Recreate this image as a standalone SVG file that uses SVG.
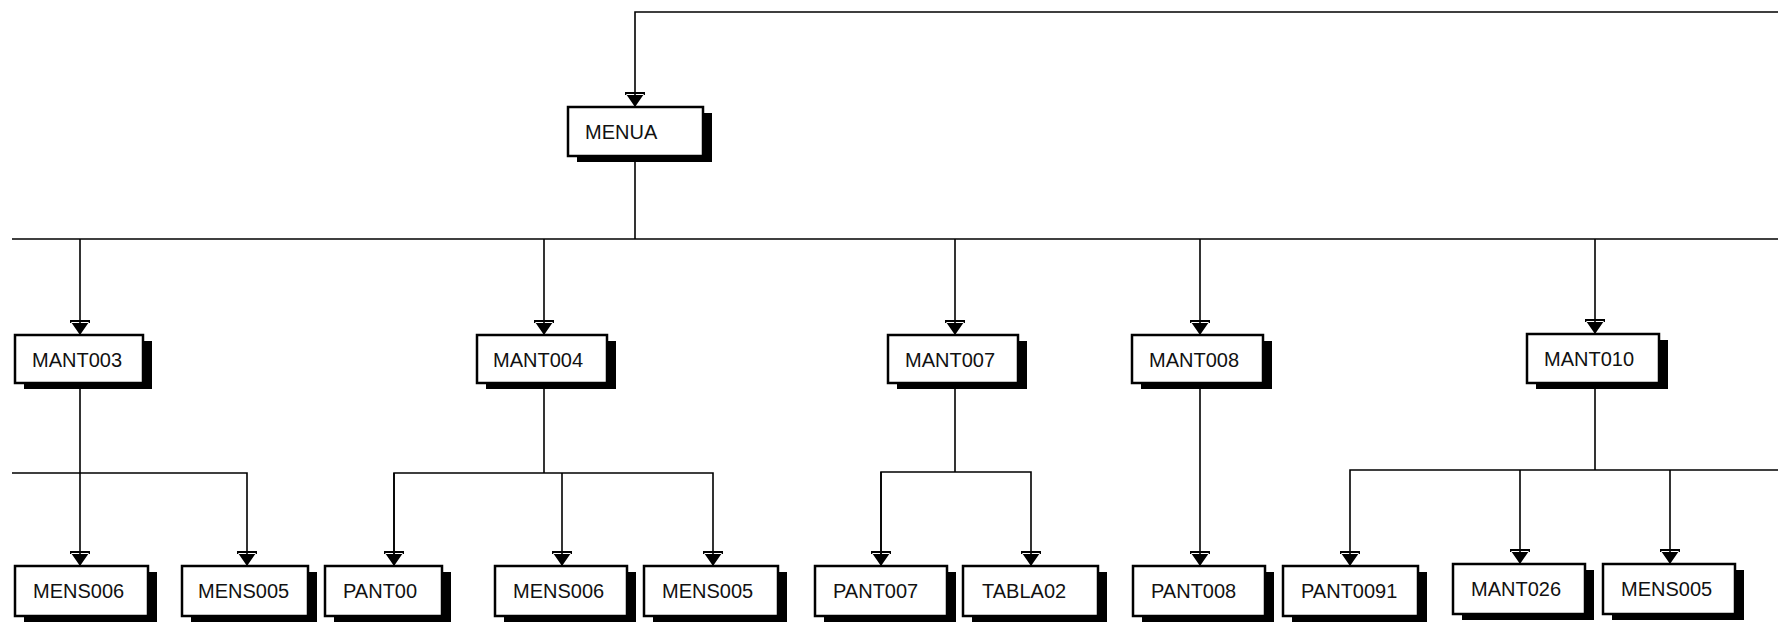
<svg xmlns="http://www.w3.org/2000/svg" width="1778" height="627" viewBox="0 0 1778 627">
<style>
.sh{fill:#000}
.bx{fill:#fff;stroke:#000;stroke-width:2.5}
.lb{font-family:"Liberation Sans",Arial,sans-serif;font-size:20px;fill:#111}
.ln{fill:none;stroke:#000;stroke-width:1.6}
</style>
<defs>
<marker id="ah" markerUnits="userSpaceOnUse" viewBox="-16 -12 18 24" markerWidth="18" markerHeight="24" refX="0" refY="0" orient="auto">
<path d="M0,0 L-13,-9 L-13,9 Z M-15,-10 H-12 V10 H-15 Z" fill="#000"/>
</marker>
</defs>
<g id="connectors">
<path class="ln" d="M1778,12 H635 V107" marker-end="url(#ah)"/>
<path class="ln" d="M635,156 V239"/>
<path class="ln" d="M12,239 H1778"/>
<path class="ln" d="M80,239 V335" marker-end="url(#ah)"/>
<path class="ln" d="M544,239 V335" marker-end="url(#ah)"/>
<path class="ln" d="M955,239 V335" marker-end="url(#ah)"/>
<path class="ln" d="M1200,239 V335" marker-end="url(#ah)"/>
<path class="ln" d="M1595,239 V334" marker-end="url(#ah)"/>
<path class="ln" d="M80,383 V566" marker-end="url(#ah)"/>
<path class="ln" d="M12,473 H247 V566" marker-end="url(#ah)"/>
<path class="ln" d="M544,383 V473"/>
<path class="ln" d="M394,566 V473 H713 V566" marker-end="url(#ah)"/>
<path class="ln" d="M394,473 V566" marker-end="url(#ah)"/>
<path class="ln" d="M562,473 V566" marker-end="url(#ah)"/>
<path class="ln" d="M955,383 V472"/>
<path class="ln" d="M881,566 V472 H1031 V566" marker-end="url(#ah)"/>
<path class="ln" d="M881,472 V566" marker-end="url(#ah)"/>
<path class="ln" d="M1200,383 V566" marker-end="url(#ah)"/>
<path class="ln" d="M1595,383 V470"/>
<path class="ln" d="M1778,470 H1350 V566" marker-end="url(#ah)"/>
<path class="ln" d="M1520,470 V564" marker-end="url(#ah)"/>
<path class="ln" d="M1670,470 V564" marker-end="url(#ah)"/>
</g>
<g id="menua"><rect class="sh" x="577" y="113" width="135" height="49"/><rect class="bx" x="568" y="107" width="135" height="49"/><text class="lb" x="585" y="139">MENUA</text></g>
<g id="mant003"><rect class="sh" x="24" y="341" width="128" height="48"/><rect class="bx" x="15" y="335" width="128" height="48"/><text class="lb" x="32" y="367">MANT003</text></g>
<g id="mant004"><rect class="sh" x="486" y="341" width="130" height="48"/><rect class="bx" x="477" y="335" width="130" height="48"/><text class="lb" x="493" y="367">MANT004</text></g>
<g id="mant007"><rect class="sh" x="897" y="341" width="130" height="48"/><rect class="bx" x="888" y="335" width="130" height="48"/><text class="lb" x="905" y="367">MANT007</text></g>
<g id="mant008"><rect class="sh" x="1141" y="341" width="131" height="48"/><rect class="bx" x="1132" y="335" width="131" height="48"/><text class="lb" x="1149" y="367">MANT008</text></g>
<g id="mant010"><rect class="sh" x="1536" y="340" width="132" height="49"/><rect class="bx" x="1527" y="334" width="132" height="49"/><text class="lb" x="1544" y="366">MANT010</text></g>
<g id="mens006a"><rect class="sh" x="24" y="572" width="133" height="50"/><rect class="bx" x="15" y="566" width="133" height="50"/><text class="lb" x="33" y="598">MENS006</text></g>
<g id="mens005a"><rect class="sh" x="191" y="572" width="126" height="50"/><rect class="bx" x="182" y="566" width="126" height="50"/><text class="lb" x="198" y="598">MENS005</text></g>
<g id="pant00"><rect class="sh" x="334" y="572" width="117" height="50"/><rect class="bx" x="325" y="566" width="117" height="50"/><text class="lb" x="343" y="598">PANT00</text></g>
<g id="mens006b"><rect class="sh" x="504" y="572" width="132" height="50"/><rect class="bx" x="495" y="566" width="132" height="50"/><text class="lb" x="513" y="598">MENS006</text></g>
<g id="mens005b"><rect class="sh" x="653" y="572" width="134" height="50"/><rect class="bx" x="644" y="566" width="134" height="50"/><text class="lb" x="662" y="598">MENS005</text></g>
<g id="pant007"><rect class="sh" x="824" y="572" width="132" height="50"/><rect class="bx" x="815" y="566" width="132" height="50"/><text class="lb" x="833" y="598">PANT007</text></g>
<g id="tabla02"><rect class="sh" x="972" y="572" width="135" height="50"/><rect class="bx" x="963" y="566" width="135" height="50"/><text class="lb" x="982" y="598">TABLA02</text></g>
<g id="pant008"><rect class="sh" x="1142" y="572" width="132" height="50"/><rect class="bx" x="1133" y="566" width="132" height="50"/><text class="lb" x="1151" y="598">PANT008</text></g>
<g id="pant0091"><rect class="sh" x="1292" y="572" width="135" height="50"/><rect class="bx" x="1283" y="566" width="135" height="50"/><text class="lb" x="1301" y="598">PANT0091</text></g>
<g id="mant026"><rect class="sh" x="1462" y="570" width="132" height="50"/><rect class="bx" x="1453" y="564" width="132" height="50"/><text class="lb" x="1471" y="596">MANT026</text></g>
<g id="mens005c"><rect class="sh" x="1612" y="570" width="132" height="50"/><rect class="bx" x="1603" y="564" width="132" height="50"/><text class="lb" x="1621" y="596">MENS005</text></g>
</svg>
